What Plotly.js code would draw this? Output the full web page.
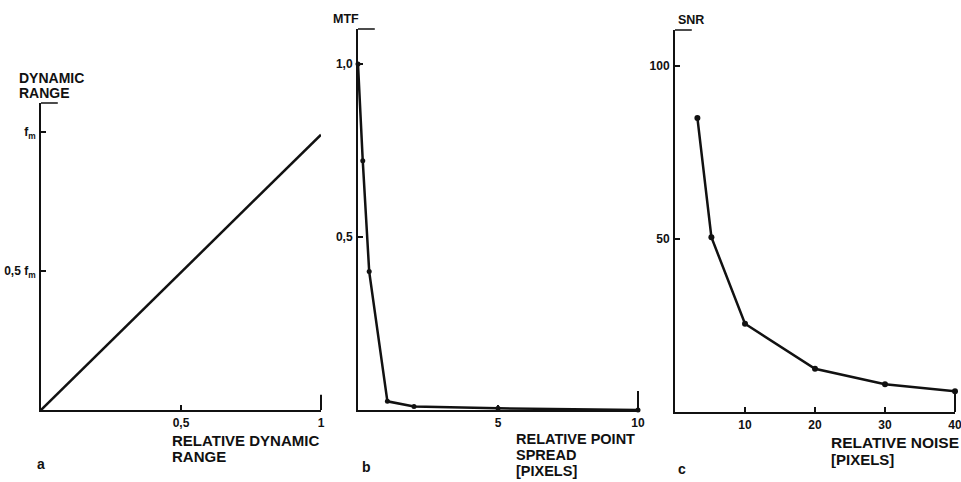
<!DOCTYPE html>
<html><head><meta charset="utf-8">
<script src="https://cdn.plot.ly/plotly-3.0.1.min.js"></script>
<style>html,body{margin:0;padding:0;background:#fff}#chart{width:961px;height:482px}</style>
</head><body><div id="chart"></div>
<script>
// Panel a: dynamic range
const aX = [0, 1];
const aY = [0, 0.99];
const aTickVals = [0.5, 1];
const aTickText = ['0,5', '1'];
const aYTickVals = [0.5, 1];
const aYTickText = ['0,5 f<sub>m</sub>', 'f<sub>m</sub>'];
// Panel b: MTF vs relative point spread
const bX = [0, 0.17, 0.4, 1.05, 2, 5, 10];
const bY = [1.0, 0.72, 0.40, 0.025, 0.01, 0.005, 0.0];
const bTickVals = [5, 10];
const bTickText = ['5', '10'];
const bYTickVals = [0.5, 1.0];
const bYTickText = ['0,5', '1,0'];
// Panel c: SNR vs relative noise
const cX = [3.2, 5.2, 10, 20, 30, 40];
const cY = [85, 50.5, 25.5, 12.5, 8, 6];
const cTickVals = [10, 20, 30, 40];
const cTickText = ['10', '20', '30', '40'];
const cYTickVals = [50, 100];
const cYTickText = ['50', '100'];

const W = 961, H = 482;
const px = v => v / W;
const py = v => 1 - v / H;
const FONT = 'Liberation Sans, Arial, sans-serif';
const tickFont = {family: FONT, size: 12, color: '#111', weight: 'bold'};

function xa(dom, range, tv, tt, anchor) {
  return {domain: dom, range: range, anchor: anchor, showline: true, linecolor: '#111', linewidth: 2,
    showgrid: false, zeroline: false, ticks: 'inside', ticklen: 5, tickwidth: 1.5, tickcolor: '#111',
    tickvals: tv, ticktext: tt, tickfont: tickFont, fixedrange: true, ticklabeloverflow: 'allow', ticklabelstandoff: 1};
}
function ya(dom, range, tv, tt, anchor) {
  return {domain: dom, range: range, anchor: anchor, showline: true, linecolor: '#111', linewidth: 2,
    showgrid: false, zeroline: false, ticks: 'inside', ticklen: 5, tickwidth: 1.5, tickcolor: '#111',
    tickvals: tv, ticktext: tt, tickfont: tickFont, fixedrange: true, ticklabeloverflow: 'allow', ticklabelstandoff: 1};
}

const line = {color: '#111', width: 2.5};
const traces = [
  {x: aX, y: aY, xaxis: 'x', yaxis: 'y', mode: 'lines', line: line, hoverinfo: 'skip'},
  {x: bX, y: bY, xaxis: 'x2', yaxis: 'y2', mode: 'lines+markers', line: line, marker: {size: 5, color: '#111'}, hoverinfo: 'skip', cliponaxis: false},
  {x: cX, y: cY, xaxis: 'x3', yaxis: 'y3', mode: 'lines+markers', line: line, marker: {size: 6, color: '#111'}, hoverinfo: 'skip', cliponaxis: false}
];

const ann = (text, x, y, size) => ({text: '<b>' + text + '</b>', x: px(x), y: py(y), xref: 'paper', yref: 'paper',
  xanchor: 'left', yanchor: 'middle', showarrow: false, align: 'left', borderpad: 0, font: {family: FONT, size: size, color: '#111'}});

function caps(xn, yn) {
  return [
    {type: 'line', xref: xn + ' domain', yref: yn + ' domain', x0: 0, x1: 0.06, y0: 1, y1: 1, line: {color: '#111', width: 1.5}},
    {type: 'line', xref: xn + ' domain', yref: yn + ' domain', x0: 1, x1: 1, y0: 0, y1: 0.05, line: {color: '#111', width: 2}}
  ];
}

const layout = {
  width: W, height: H, margin: {l: 0, r: 0, t: 0, b: 0}, showlegend: false,
  paper_bgcolor: '#fff', plot_bgcolor: '#fff',
  xaxis: xa([px(41), px(321)], [0, 1], aTickVals, aTickText, 'y'),
  yaxis: ya([py(410), py(103)], [0, 1.104], aYTickVals, aYTickText, 'x'),
  xaxis2: xa([px(358), px(638)], [0, 10], bTickVals, bTickText, 'y2'),
  yaxis2: ya([py(410), py(29)], [0, 1.101], bYTickVals, bYTickText, 'x2'),
  xaxis3: xa([px(675), px(955)], [0, 40], cTickVals, cTickText, 'y3'),
  yaxis3: ya([py(412), py(30)], [0, 110.4], cYTickVals, cYTickText, 'x3'),
  shapes: [].concat(caps('x', 'y'), caps('x2', 'y2'), caps('x3', 'y3')),
  annotations: [
    ann('DYNAMIC', 18, 78, 14),
    ann('RANGE', 18, 93, 14),
    ann('RELATIVE DYNAMIC', 171, 440, 15),
    ann('RANGE', 171, 456, 15),
    ann('a', 36, 464, 14),
    ann('MTF', 332, 19, 12.5),
    ann('RELATIVE POINT', 515, 439, 14.5),
    ann('SPREAD', 515, 455, 14.5),
    ann('[PIXELS]', 515, 471, 14.5),
    ann('b', 361, 467, 14),
    ann('SNR', 677, 20, 12.5),
    ann('RELATIVE NOISE', 830, 442, 15.5),
    ann('[PIXELS]', 830, 459, 15),
    ann('c', 677, 469, 14)
  ]
};
Plotly.newPlot('chart', traces, layout, {displayModeBar: false, staticPlot: true});
</script></body></html>
